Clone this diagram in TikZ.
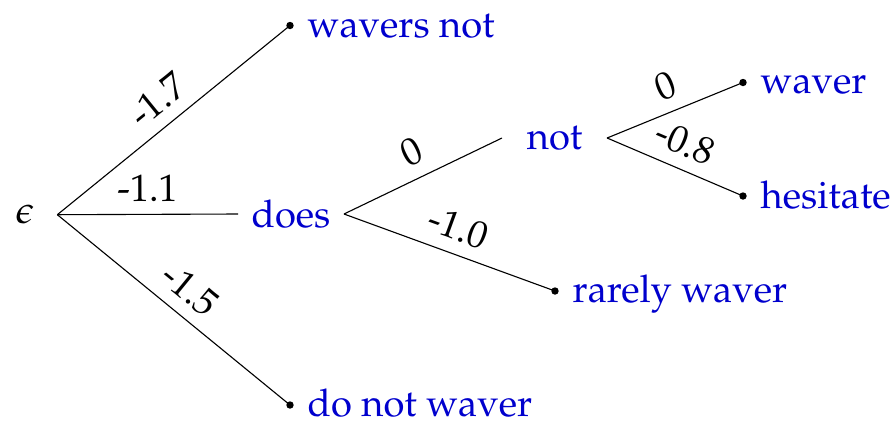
\documentclass[tikz,border=0pt]{standalone}
\usepackage[T1]{fontenc}
\usepackage{mathpazo}
\usetikzlibrary{positioning}
\definecolor{wordblue}{RGB}{0,0,205}
\tikzset{
  word/.style={text=wordblue, anchor=base west, inner sep=0pt},
  inner/.style={text=wordblue, anchor=west, inner ysep=0pt},
  tip/.style={circle, fill=black, inner sep=0pt, minimum size=2pt},
  branch/.style={draw, line width=0.3pt},
  weight/.style={midway, above, sloped}
}
\begin{document}
\begin{tikzpicture}[x=0.27pt, y=-0.27pt, font=\fontsize{10.3}{12.4}\selectfont]
\useasboundingbox (0,0) rectangle (896,420);
% root
\node[inner xsep=6pt] (eps) at (25,214.7) {$\epsilon$};
% first level
\node[tip] (wn-tip) at (290,25.5) {};
\node[word] (wn) at (307,37) {wavers not};
\node[inner, inner xsep=3.5pt] (does) at (238,214) {does};
\node[tip] (dnw-tip) at (290,405) {};
\node[word] (dnw) at (307,416.5) {do not waver};
% second level
\node[inner, inner xsep=6.5pt] (not) at (502,138) {not};
\node[tip] (rw-tip) at (555,291) {};
\node[word] (rw) at (572,302.5) {rarely waver};
% third level
\node[tip] (wv-tip) at (743,82.5) {};
\node[word] (wv) at (760,93) {waver};
\node[tip] (hs-tip) at (743,196) {};
\node[word] (hs) at (760,208) {hesitate};
% branches
\draw[branch] (eps.east) -- node[weight] {-1.7} (wn-tip.center);
\draw[branch] (eps.east) -- node[weight] {-1.1} (does.west);
\draw[branch] (eps.east) -- node[weight] {-1.5} (dnw-tip.center);
\draw[branch] (does.east) -- node[weight] {0} (not.west);
\draw[branch] (does.east) -- node[weight] {-1.0} (rw-tip.center);
\draw[branch] (not.east) -- node[weight] {0} (wv-tip.center);
\draw[branch] (not.east) -- node[weight] {-0.8} (hs-tip.center);
\end{tikzpicture}
\end{document}
